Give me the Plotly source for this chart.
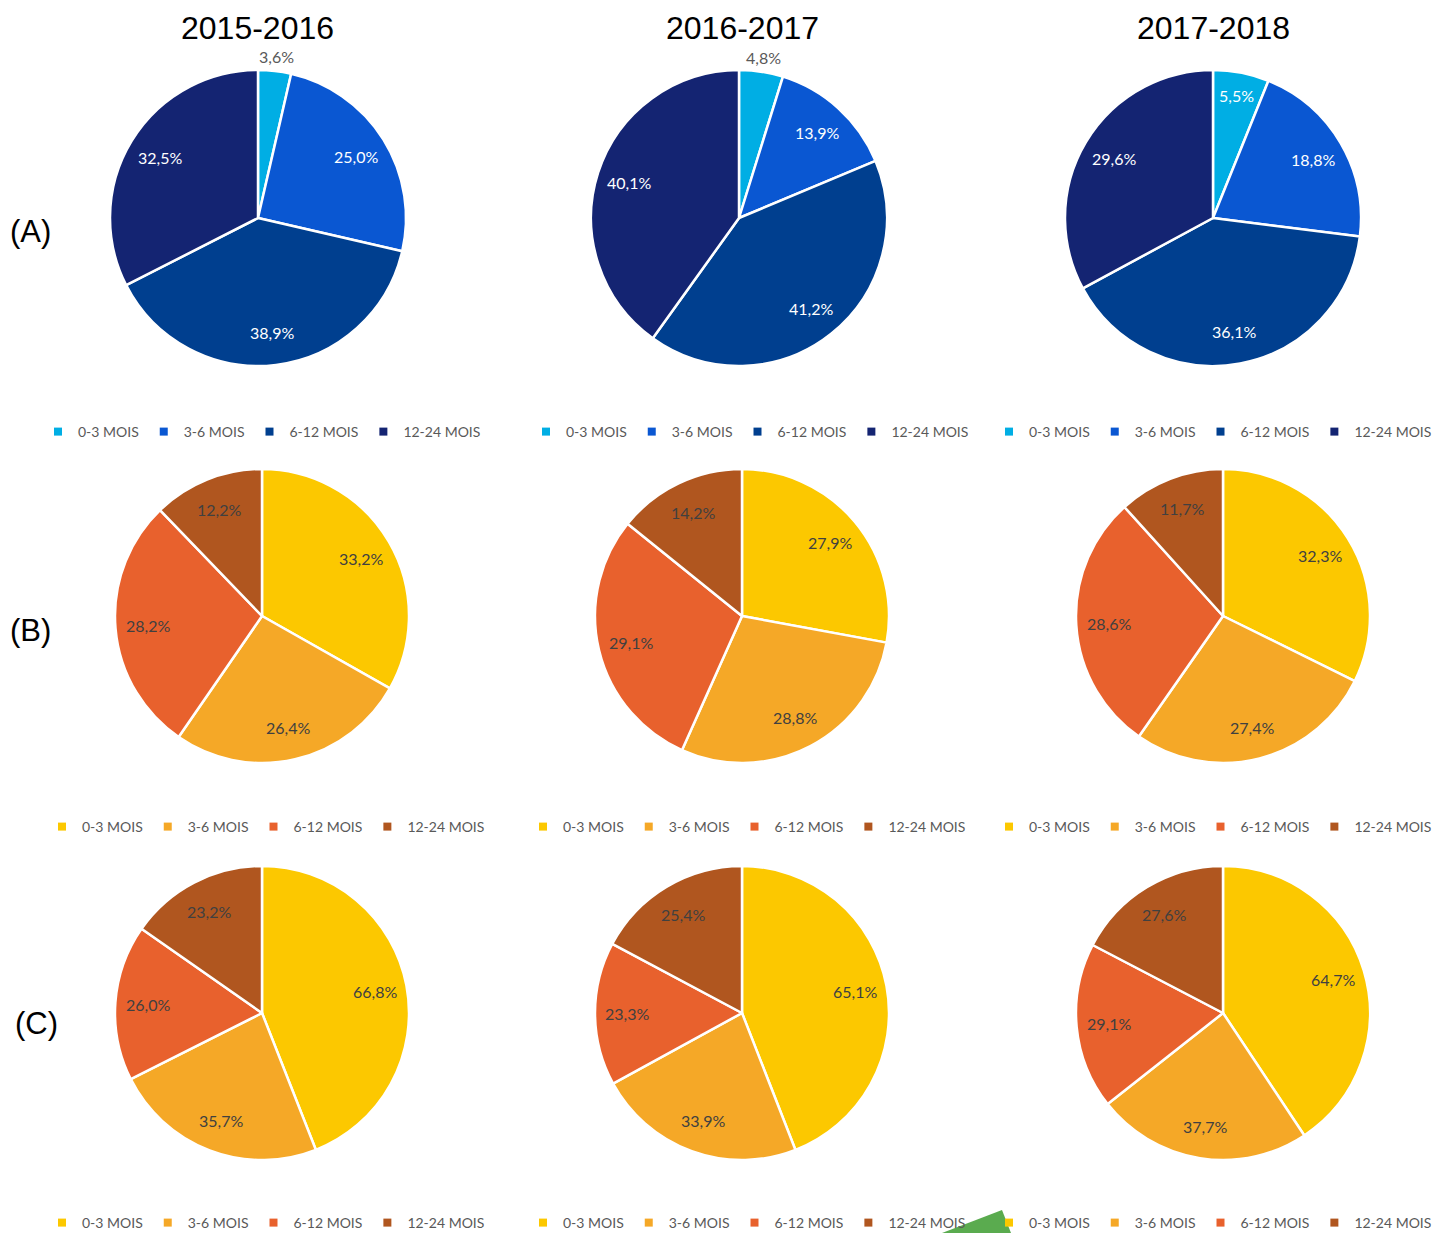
import math
import plotly.graph_objects as go

OFF = 8                      # page body margin in the browser
W, H = 1441 - OFF, 1233 - OFF

categories = ["0-3 MOIS", "3-6 MOIS", "6-12 MOIS", "12-24 MOIS"]
years = ["2015-2016", "2016-2017", "2017-2018"]
rows = ["(A)", "(B)", "(C)"]

# values (%)
A_2015 = [3.6, 25.0, 38.9, 32.5]
A_2016 = [4.8, 13.9, 41.2, 40.1]
A_2017 = [5.5, 18.8, 36.1, 29.6]
B_2015 = [33.2, 26.4, 28.2, 12.2]
B_2016 = [27.9, 28.8, 29.1, 14.2]
B_2017 = [32.3, 27.4, 28.6, 11.7]
C_2015 = [66.8, 35.7, 26.0, 23.2]
C_2016 = [65.1, 33.9, 23.3, 25.4]
C_2017 = [64.7, 37.7, 29.1, 27.6]

data = [[A_2015, A_2016, A_2017], [B_2015, B_2016, B_2017], [C_2015, C_2016, C_2017]]

blue_colors = ["#00AEE4", "#0A57D2", "#003F8F", "#142472"]
warm_colors = ["#FCC800", "#F5A827", "#E8612D", "#B0561F"]

# layout geometry (reference pixels)
pie_cx = [[258, 739, 1213], [262, 742, 1223], [262, 742, 1223]]
pie_cy = [218, 616, 1013]
pie_r = [148, 147, 147]
legend_cx = [[262, 750, 1217], [266, 747, 1228], [266, 747, 1228]]
legend_cy = [432, 827, 1223]
legend_right_limit = 1437
title_cx = [257, 743, 1213]
row_label_pos = [(8, 232), (8, 630), (13, 1023)]


def px(x):
    return (x - OFF) / W


def py(y):
    return 1 - (y - OFF) / H


def fmt(v):
    return f"{v:.1f}".replace(".", ",") + "%"


LABEL_FONT = "Lato, 'Open Sans', sans-serif"
NARROW_FONT = "'Liberation Sans Narrow', 'Arial Narrow', 'Liberation Sans', Arial, sans-serif"

fig = go.Figure()
layout_legends = {}
annotations = []
n = 0
for i in range(3):
    for j in range(3):
        n += 1
        vals = data[i][j]
        cx, cy, r = pie_cx[i][j], pie_cy[i], pie_r[i]
        colors = blue_colors if i == 0 else warm_colors
        lname = "legend" if n == 1 else f"legend{n}"
        fig.add_trace(go.Pie(
            labels=categories,
            values=vals,
            text=[fmt(v) for v in vals],
            textinfo="none",
            marker=dict(colors=colors, line=dict(color="white", width=2.5)),
            sort=False,
            direction="clockwise",
            rotation=0,
            domain=dict(x=[px(cx - r), px(cx + r)], y=[py(cy + r), py(cy - r)]),
            showlegend=False,
            hoverinfo="label+text",
        ))
        # legend entries (one legend per pie)
        for c, col in zip(categories, colors):
            fig.add_trace(go.Scatter(
                x=[None], y=[None], mode="markers", name=c,
                marker=dict(symbol="square", size=8, color=col),
                legend=lname, showlegend=True, hoverinfo="skip",
            ))
        if j < 2:
            lx, xa = px(legend_cx[i][j]), "center"
        else:
            lx, xa = px(legend_right_limit), "right"
        layout_legends[lname] = dict(
            orientation="h",
            x=lx, xanchor=xa,
            y=py(legend_cy[i]), yanchor="middle",
            font=dict(family=LABEL_FONT, size=14, color="#595959"),
            itemwidth=30,
            bgcolor="rgba(0,0,0,0)",
            traceorder="normal",
            itemclick=False,
            itemdoubleclick=False,
        )
        # data labels, placed along each slice's bisector
        total = sum(vals)
        cum = 0.0
        for v in vals:
            frac = v / total
            mid = (cum + frac / 2) * 2 * math.pi
            cum += frac
            if i == 0 and v < 5:
                rr, col = 1.10 * r, "#595959"
            else:
                rr = (0.84 if frac < 0.08 else 0.78) * r
                col = "white" if i == 0 else "#404040"
            tx = cx + rr * math.sin(mid)
            ty = cy - rr * math.cos(mid)
            annotations.append(dict(
                text=fmt(v), x=px(tx), y=py(ty), xref="paper", yref="paper",
                xanchor="center", yanchor="middle", showarrow=False,
                font=dict(family=LABEL_FONT, size=16, color=col),
            ))

for k, t in enumerate(years):
    annotations.append(dict(
        text=t, x=px(title_cx[k]), y=1, xref="paper", yref="paper",
        xanchor="center", yanchor="top", showarrow=False,
        font=dict(family=NARROW_FONT, size=32, color="black"),
    ))
for k, t in enumerate(rows):
    x, y = row_label_pos[k]
    annotations.append(dict(
        text=t, x=px(x), y=py(y), xref="paper", yref="paper",
        xanchor="left", yanchor="middle", showarrow=False,
        font=dict(family=NARROW_FONT, size=31, color="black"),
    ))

# stray green triangle visible at the bottom of the source image
tri = [(942, 1233), (1011, 1233), (1002, 1210)]
path = "M " + " L ".join(f"{px(a)},{py(b)}" for a, b in tri) + " Z"
shapes = [dict(type="path", xref="paper", yref="paper", path=path,
               fillcolor="#5AAB4F", line=dict(width=0))]

fig.update_layout(
    width=W, height=H,
    margin=dict(l=0, r=0, t=0, b=0, autoexpand=False),
    paper_bgcolor="white",
    plot_bgcolor="white",
    xaxis=dict(visible=False, domain=[0, 0.001]),
    yaxis=dict(visible=False, domain=[0, 0.001]),
    annotations=annotations,
    shapes=shapes,
    **layout_legends,
)

fig.write_html("out.html")
